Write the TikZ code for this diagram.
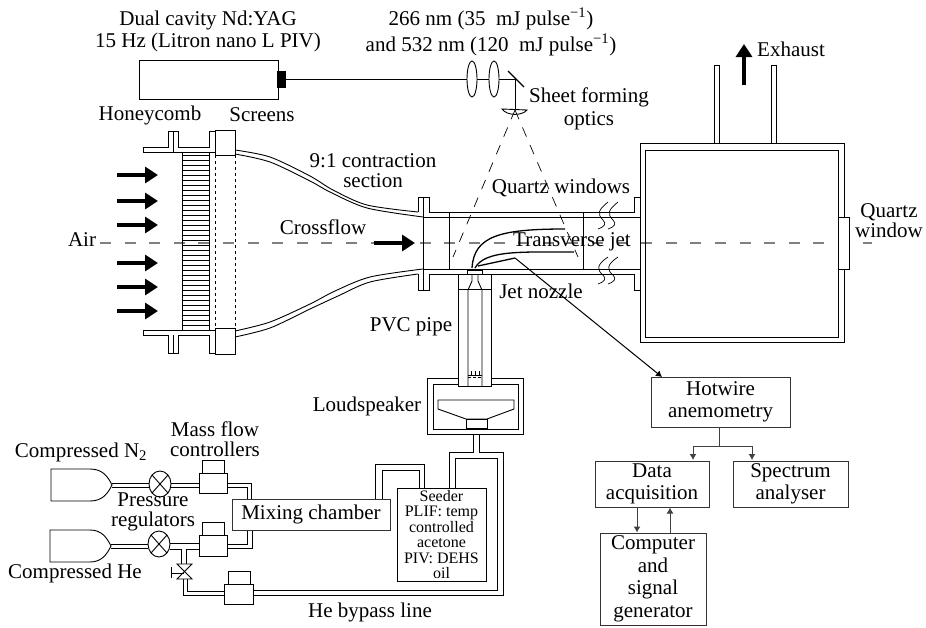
\documentclass[tikz,border=0pt]{standalone}
\usepackage{fontspec}
\setmainfont{Liberation Serif}
\usetikzlibrary{arrows.meta,calc}
\tikzset{
  wall/.style={line width=0.9pt},
  flow/.style={-{Triangle[length=13pt,width=16pt]}, line width=3.6pt},
  signal/.style={-{Latex[length=6pt,width=7pt]}, line width=1pt, black!75},
  axisline/.style={line width=1.2pt, black!50, dash pattern=on 11pt off 13.6pt},
  lbl/.style={font=\fontsize{21}{22.5}\selectfont, align=center, inner sep=0pt},
  small/.style={font=\fontsize{16}{15.5}\selectfont, align=center, inner sep=0pt},
  boxnode/.style={lbl, draw, line width=0.9pt, black!80, text=black},
  mfc/.style={wall, fill=white},
}
\begin{document}
\begin{tikzpicture}[x=1pt,y=-1pt]
  \useasboundingbox (0,0) rectangle (926,627);
  % centre line
  \draw[axisline] (100,243) -- (872,243);
  % laser and optics
  \draw[wall] (139,60) rectangle (278,99);
  \fill (277,71) rectangle (286,88);
  \draw[wall] (286,79) -- (515,79) -- (515,110);
  \draw[wall, fill=white] (472,79) ellipse (5 and 18);
  \draw[wall, fill=white] (494,79) ellipse (5 and 18);
  \draw[line width=1.1pt] (508,71) -- (524,87);
  \draw[wall] (502,109) -- (527,110) .. controls (522,116) and (507,116) .. cycle;
  \draw[line width=0.7pt, dash pattern=on 10pt off 9pt] (515,110) -- (453,257);
  \draw[line width=0.7pt, dash pattern=on 10pt off 9pt] (515,110) -- (578,257);
  % honeycomb and screens
  \draw[wall] (182,152) rectangle (209,330);
  \foreach \ypos in {155,160,...,330} \draw[line width=1pt] (182,\ypos) -- (209,\ypos);
  \draw[wall, dashed] (215,155) -- (215,328);
  \draw[wall, dashed] (235,155) -- (235,328);
  \draw[wall] (143,152) -- (143,147) -- (168,147) -- (168,131) -- (178,131) -- (178,147) -- (209,147) -- (209,131) -- (215,131);
  \draw[wall] (143,152) -- (215,152);
  \draw[wall] (173,131) -- (173,152);
  \draw[wall] (143,330) -- (143,335) -- (168,335) -- (168,353) -- (178,353) -- (178,335) -- (209,335) -- (209,353) -- (215,353);
  \draw[wall] (143,330) -- (215,330);
  \draw[wall] (173,335) -- (173,353);
  \draw[wall] (215,130) rectangle (235,155);
  \draw[wall] (215,328) rectangle (235,354);
  \foreach \ypos in {175,201,225,263,287,311} \draw[flow] (117,\ypos) -- (158,\ypos);
  % contraction
  \draw[wall] plot[smooth] coordinates {(235,150) (270,157) (310,176) (333,190) (367,205) (418,212)};
  \draw[wall] plot[smooth] coordinates {(235,154) (270,162) (310,181) (330,192) (367,208) (423,217)};
  \draw[wall] plot[smooth] coordinates {(235,331) (270,322) (310,304) (335,291) (370,277) (423,269)};
  \draw[wall] plot[smooth] coordinates {(235,337) (270,328) (310,309) (338,296) (370,282) (418,274)};
  \draw[flow] (374,243) -- (415,243);
  % test section
  \draw[wall] (418,212) -- (418,197) -- (429,197) -- (429,212) -- (634,212) -- (634,197) -- (640,197);
  \draw[wall] (423,217) -- (640,217);
  \draw[wall] (418,274) -- (418,290) -- (429,290) -- (429,274) -- (634,274) -- (634,290) -- (640,290);
  \draw[wall] (423,269) -- (640,269);
  \draw[wall] (423,197) -- (423,290);
  \draw[wall] (449,212) rectangle (583,269);
  \foreach \xpos in {0,10} {
    \draw[line width=0.7pt, xshift=\xpos] (608,202) .. controls (598,210) and (597,214) .. (603,220) .. controls (607,224) and (604,227) .. (598,229);
    \draw[line width=0.7pt, xshift=\xpos] (608,257) .. controls (596,265) and (597,270) .. (603,275) .. controls (607,279) and (604,282) .. (598,284);
  }
  % jet
  \coordinate (jettip) at (515,258);
  \draw[line width=1.3pt] (472,268) .. controls (474,236) and (500,229) .. (565,229);
  \draw[line width=1.3pt] (475,268) .. controls (485,250) and (520,252) .. (574,252);
  \draw[line width=1.3pt] (478,266) -- (jettip);
  % chamber
  \draw[wall] (640,143) rectangle (844,342);
  \draw[wall] (645,150) rectangle (838,337);
  \draw[wall] (714,143) rectangle (719,65);
  \draw[wall] (771,143) rectangle (776,65);
  \draw[wall, fill=white] (838,217) rectangle (849,269);
  \draw[flow] (744,85) -- (744,44);
  % loudspeaker
  \draw[wall] (427,378) rectangle (523,434);
  \draw[wall] (433,384) rectangle (518,429);
  \draw[wall] (438,400) -- (514,400) -- (514,409) -- (487,419) -- (466,419) -- (438,409) -- cycle;
  \draw[wall] (466,419) rectangle (487,428);
  % pvc pipe and nozzle
  \draw[wall, fill=white] (458,274) rectangle (491,386);
  \draw[wall] (458,289) -- (491,289);
  \draw[wall] (468,386) -- (468,290) -- (472,281) -- (472,274);
  \draw[wall] (482,386) -- (482,290) -- (478,281) -- (478,274);
  \draw[wall] (467,270) rectangle (482,274);
  \draw[line width=0.6pt] (468,375) -- (482,375);
  \draw[line width=0.6pt, densely dashed] (468,377) -- (482,377);
  \foreach \xpos in {471,475,479} \draw[line width=0.6pt] (\xpos,371) -- (\xpos,375);
  % gas lines
  \draw[wall] (473,434) -- (473,452) -- (449,452) -- (449,488);
  \draw[wall] (479,434) -- (479,452) -- (503,452) -- (503,595) -- (253,595);
  \draw[wall] (455,488) -- (455,458) -- (497,458) -- (497,590) -- (253,590);
  \draw[wall] (375,499) -- (375,464) -- (424,464) -- (424,488);
  \draw[wall] (382,499) -- (382,470) -- (419,470) -- (419,488);
  % cylinders
  \draw[wall] (90,469) -- (51,469) -- (51,501) -- (90,501) .. controls (103,501) and (108,493) .. (112,485) .. controls (108,477) and (103,469) .. cycle;
  \draw[wall] (90,530) -- (50,530) -- (50,562) -- (90,562) .. controls (102,562) and (107,554) .. (111,546) .. controls (107,538) and (102,530) .. cycle;
  \draw[wall] (112,483) -- (149,483);
  \draw[wall] (112,487) -- (149,487);
  \draw[wall] (111,544) -- (148,544);
  \draw[wall] (111,548) -- (148,548);
  \draw[wall] (171,483) -- (199,483);
  \draw[wall] (171,487) -- (199,487);
  \draw[wall] (170,543) -- (199,543);
  \draw[wall] (170,549) -- (181,549) -- (181,564);
  \draw[wall] (199,549) -- (186,549) -- (186,564);
  % regulators
  \draw[wall] (160,484) ellipse (11 and 13);
  \draw[wall] (152,475) -- (168,493);
  \draw[wall] (168,475) -- (152,493);
  \draw[wall] (159,544) ellipse (11 and 13);
  \draw[wall] (151,535) -- (167,553);
  \draw[wall] (167,535) -- (151,553);
  % bypass valve
  \draw[wall] (177,564) -- (192,564) -- (177,579) -- (192,579) -- cycle;
  \draw[wall] (171,573) -- (184,573);
  \draw[wall] (171,567) -- (171,578);
  \draw[wall] (183,579) -- (183,595) -- (224,595);
  \draw[wall] (187,579) -- (187,591) -- (224,591);
  % mass flow controllers
  \draw[mfc] (199,473) rectangle (227,493);
  \draw[mfc] (202,460) rectangle (224,473);
  \draw[mfc] (199,535) rectangle (227,556);
  \draw[mfc] (202,522) rectangle (224,535);
  \draw[mfc] (224,584) rectangle (253,604);
  \draw[mfc] (228,571) rectangle (250,584);
  \draw[wall] (227,483) -- (251,483) -- (251,499);
  \draw[wall] (227,487) -- (247,487) -- (247,499);
  \draw[wall] (227,544) -- (247,544) -- (247,530);
  \draw[wall] (227,548) -- (252,548) -- (252,530);
  % boxes
  \node[boxnode, minimum width=158pt, minimum height=31pt] (mixing) at (311,514.5) {Mixing chamber};
  \node[small, draw, line width=0.9pt, minimum width=89pt, minimum height=93pt] (seeder) at (441.5,534.5) {Seeder\\PLIF: temp\\controlled\\acetone\\PIV: DEHS\\oil};
  \node[boxnode, minimum width=139pt, minimum height=50pt] (hotwire) at (720.5,402) {Hotwire\\anemometry};
  \node[boxnode, minimum width=114pt, minimum height=46pt] (acquisition) at (652,484) {Data\\acquisition};
  \node[boxnode, minimum width=115pt, minimum height=46pt] (spectrum) at (790.5,484) {Spectrum\\analyser};
  \node[boxnode, minimum width=106pt, minimum height=92pt] (computer) at (653,579) {Computer\\and\\signal\\generator};
  % connectors
  \coordinate (hwin) at (662,377);
  \draw[signal, black] (jettip) -- (hwin);
  \coordinate (split) at (719,446);
  \draw[wall, black!75] (hotwire.south -| split) -- (split);
  \draw[signal] (split) -| (693,460);
  \draw[signal] (split) -| (752,460);
  \draw[signal] (637,507) -- (637,532.5);
  \draw[signal] (670,532.5) -- (670,507.5);
  % labels
  \node[lbl] (laser) at (208,31.5) {Dual cavity Nd:YAG\\15 Hz (Litron nano L PIV)};
  \node[lbl] (wavelength) at (491,32) {266 nm (35~~mJ pulse\textsuperscript{−1})\\[3.5pt]and 532 nm (120~~mJ pulse\textsuperscript{−1})};
  \node[lbl] (honeycomb) at (150,115) {Honeycomb};
  \node[lbl] (screens) at (262,115) {Screens};
  \node[lbl] (sheet) at (589,109) {Sheet forming\\optics};
  \node[lbl] (contraction) at (373,170.5) {9:1 contraction\\[-2.5pt]section};
  \node[lbl] (crossflow) at (323,227) {Crossflow};
  \node[lbl] (air) at (82,240) {Air};
  \node[lbl] (quartzs) at (561,188) {Quartz windows};
  \node[lbl] (transverse) at (572,242) {Transverse jet};
  \node[lbl] (nozzle) at (541,291) {Jet nozzle};
  \node[lbl] (pvc) at (411,327) {PVC pipe};
  \node[lbl] (speaker) at (367,406) {Loudspeaker};
  \node[lbl] (exhaust) at (791,49) {Exhaust};
  \node[lbl] (quartz) at (889,221) {Quartz\\[-2.5pt]window};
  \node[lbl] (massflow) at (215,439) {Mass flow\\[-2.5pt]controllers};
  \node[lbl] (nitrogen) at (81,452) {Compressed N\textsubscript{2}};
  \node[lbl] (pressure) at (153,512) {Pressure\\[-2.5pt]regulators};
  \node[lbl] (helium) at (75,573) {Compressed He};
  \node[lbl] (bypass) at (370,612) {He bypass line};
\end{tikzpicture}
\end{document}
